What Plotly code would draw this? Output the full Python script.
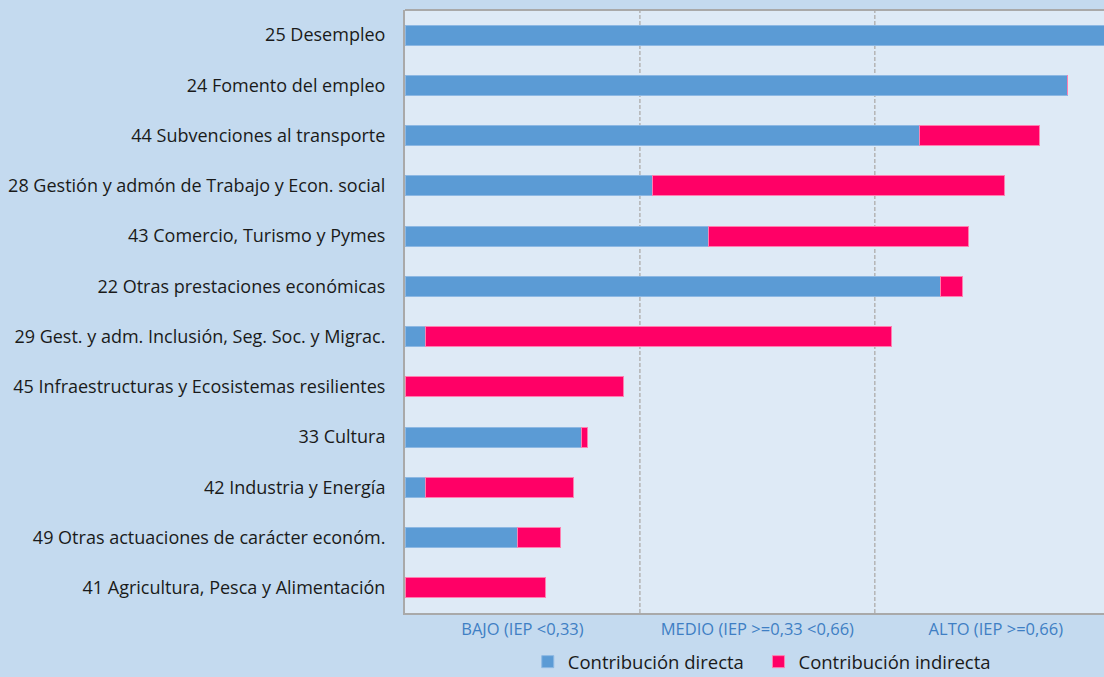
import plotly.graph_objects as go

# Programas de gasto, de arriba abajo
categorias = [
    "25 Desempleo",
    "24 Fomento del empleo",
    "44 Subvenciones al transporte",
    "28 Gestión y admón de Trabajo y Econ. social",
    "43 Comercio, Turismo y Pymes",
    "22 Otras prestaciones económicas",
    "29 Gest. y adm. Inclusión, Seg. Soc. y Migrac.",
    "45 Infraestructuras y Ecosistemas resilientes",
    "33 Cultura",
    "42 Industria y Energía",
    "49 Otras actuaciones de carácter económ.",
    "41 Agricultura, Pesca y Alimentación",
]

# Índice de esfuerzo (IEP) por tipo de contribución
contribucion_directa = [1.000, 0.931, 0.723, 0.347, 0.426, 0.753, 0.029, 0.000, 0.248, 0.029, 0.158, 0.000]
contribucion_indirecta = [0.000, 0.000, 0.168, 0.495, 0.366, 0.030, 0.655, 0.307, 0.009, 0.208, 0.060, 0.198]

# Tramos del eje horizontal
tramos_pos = [0.165, 0.495, 0.83]
tramos_txt = ["BAJO (IEP <0,33)", "MEDIO (IEP >=0,33 <0,66)", "ALTO (IEP >=0,66)"]
limites = [0.33, 0.66]

AZUL = "#5b9bd5"
ROSA = "#ff0066"
GRIS = "#a9a9a9"
FUENTE = "'Open Sans', sans-serif"

fig = go.Figure()
fig.add_trace(go.Bar(
    y=categorias, x=contribucion_directa, orientation="h",
    name="Contribución directa  ",
    marker=dict(color=AZUL, line=dict(color="#8db8e3", width=1)),
))
fig.add_trace(go.Bar(
    y=categorias, x=contribucion_indirecta, orientation="h",
    name="Contribución indirecta",
    marker=dict(color=ROSA, line=dict(color="#ff7fb0", width=1)),
))

shapes = []
for v in limites:
    shapes.append(dict(type="line", xref="x", yref="paper", x0=v, x1=v, y0=0, y1=1,
                       line=dict(color="#b4b4b4", width=1.5, dash="4px,2px"), layer="below"))
shapes.append(dict(type="line", xref="paper", yref="paper", x0=0, x1=1, y0=1, y1=1,
                   line=dict(color=GRIS, width=2)))

fig.update_layout(
    width=1104, height=677,
    barmode="stack", bargap=0.6,
    margin=dict(l=405, r=0, t=10, b=64),
    paper_bgcolor="#c4daef", plot_bgcolor="#deeaf6",
    font=dict(family=FUENTE, size=18, color="#1a1a1a"),
    shapes=shapes,
    showlegend=True,
    legend=dict(orientation="h", xref="container", yref="container",
                x=0.69, xanchor="center", y=0.022, yanchor="middle",
                font=dict(size=18.5, family=FUENTE, color="#1a1a1a"),
                bgcolor="rgba(0,0,0,0)", itemwidth=30, traceorder="normal"),
)
fig.update_xaxes(range=[0, 0.982], showgrid=False, zeroline=False,
                 tickvals=tramos_pos, ticktext=tramos_txt, ticks="",
                 tickfont=dict(size=16.5, color="#3f7fc4", family=FUENTE),
                 showline=True, linecolor=GRIS, linewidth=2, fixedrange=True)
fig.update_yaxes(autorange="reversed", showgrid=False, zeroline=False, ticks="",
                 ticklabelstandoff=14, tickfont=dict(size=18, color="#1a1a1a"),
                 showline=True, linecolor=GRIS, linewidth=2)

fig.write_html("out.html")
